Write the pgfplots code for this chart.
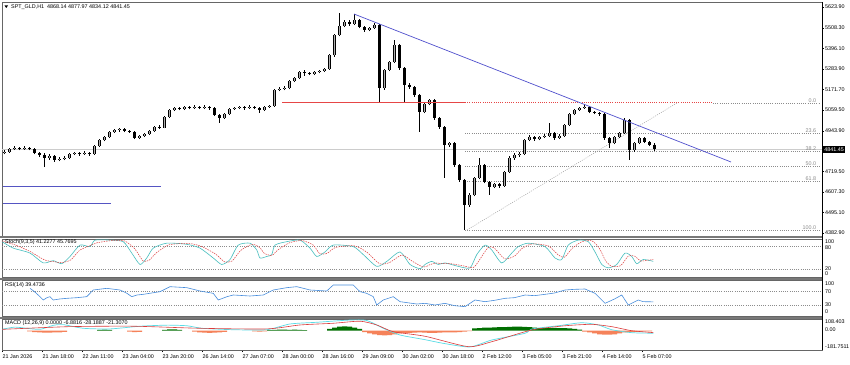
\documentclass[border=0pt]{standalone}
\usepackage{pgfplots}
\pgfplotsset{compat=1.18}
\usepackage{pgfplotstable}
\usepackage{fontspec}
\setmainfont{Liberation Sans}
\newcommand\mt{\fontsize{5.4}{6}\selectfont}
\definecolor{trendc}{RGB}{80,80,205}
\definecolor{hzblue}{RGB}{85,85,195}
\definecolor{fibc}{RGB}{140,140,140}
\definecolor{stk}{RGB}{70,190,190}
\definecolor{rsic}{RGB}{70,140,220}
\definecolor{hgreen}{RGB}{0,110,0}
\definecolor{hsalmon}{RGB}{245,130,90}
\definecolor{mcyan}{RGB}{90,220,230}
\definecolor{mred}{RGB}{220,60,60}
\definecolor{sepc}{RGB}{120,120,120}
\definecolor{bullc}{RGB}{175,175,175}
\definecolor{redln}{RGB}{230,70,70}

\pgfplotstableread{
x o h l c
1 4822 4838 4815 4828
3 4828 4852 4824 4844
5 4844 4858 4838 4850
7 4850 4856 4836 4844
9 4844 4859 4840 4850
11 4850 4857 4837 4844
13 4844 4850 4815 4822
15 4822 4830 4800 4811
17 4811 4820 4745 4795
19 4795 4815 4785 4806
21 4806 4812 4775 4784
23 4784 4800 4776 4789
25 4789 4804 4782 4795
27 4795 4824 4790 4817
29 4817 4830 4810 4822
31 4822 4828 4808 4817
33 4817 4831 4812 4822
35 4822 4827 4806 4817
37 4817 4868 4812 4861
39 4861 4900 4855 4894
41 4894 4918 4886 4910
43 4910 4945 4904 4938
45 4938 4956 4932 4948
47 4948 4957 4940 4952
49 4952 4958 4936 4943
51 4943 4950 4932 4940
53 4940 4945 4898 4905
55 4905 4922 4898 4916
57 4916 4934 4910 4927
59 4927 4950 4920 4943
61 4943 4972 4938 4965
63 4965 4975 4955 4962
65 4962 5026 4958 5020
67 5020 5064 5014 5058
69 5058 5076 5052 5069
71 5069 5075 5056 5064
73 5064 5082 5058 5075
75 5075 5080 5062 5069
77 5069 5083 5064 5075
79 5075 5081 5062 5069
81 5069 5084 5063 5075
83 5075 5080 5060 5069
85 5069 5074 5024 5031
87 5031 5038 4987 5014
89 5014 5042 5008 5036
91 5036 5070 5030 5064
93 5064 5076 5058 5069
95 5069 5082 5063 5075
97 5075 5080 5061 5069
99 5069 5083 5064 5075
101 5075 5079 5062 5069
103 5069 5072 5042 5058
105 5058 5081 5052 5075
107 5075 5088 5070 5080
109 5080 5176 5076 5168
111 5168 5183 5160 5174
113 5174 5188 5166 5179
115 5179 5224 5172 5218
117 5218 5242 5212 5234
119 5234 5274 5228 5267
121 5267 5276 5245 5262
123 5262 5268 5248 5256
125 5256 5274 5250 5267
127 5267 5280 5260 5272
129 5272 5290 5266 5283
131 5283 5368 5278 5360
133 5360 5478 5352 5470
135 5470 5591 5462 5520
137 5520 5552 5512 5542
139 5542 5550 5522 5531
141 5531 5585 5525 5552
143 5552 5558 5506 5514
145 5514 5520 5488 5498
147 5498 5516 5490 5509
149 5509 5536 5502 5525
151 5525 5530 5097 5179
153 5179 5286 5170 5278
155 5278 5330 5270 5322
157 5322 5443 5315 5415
159 5415 5420 5280 5289
161 5289 5295 5102 5196
163 5196 5205 5176 5185
165 5185 5192 5132 5141
167 5141 5148 4938 5047
169 5047 5100 5040 5091
171 5091 5120 5084 5113
173 5113 5120 5005 5014
175 5014 5022 4955 4965
177 4965 4972 4685 4866
179 4866 4885 4856 4877
181 4877 4884 4748 4756
183 4756 4762 4665 4674
185 4674 4680 4399 4537
187 4537 4600 4528 4592
189 4592 4692 4584 4685
191 4685 4795 4678 4756
193 4756 4762 4655 4663
195 4663 4670 4592 4636
197 4636 4660 4628 4652
199 4652 4658 4632 4641
201 4641 4725 4636 4718
203 4718 4805 4712 4795
205 4795 4820 4785 4811
207 4811 4826 4802 4817
209 4817 4900 4810 4894
211 4894 4920 4886 4910
213 4910 4915 4890 4899
215 4899 4918 4892 4910
217 4910 4925 4904 4916
219 4916 4987 4910 4932
221 4932 4938 4896 4905
223 4905 4925 4898 4916
225 4916 4982 4910 4976
227 4976 5042 4970 5036
229 5036 5065 5030 5058
231 5058 5076 5052 5069
233 5069 5086 5064 5075
235 5075 5080 5040 5047
237 5047 5054 5034 5042
239 5042 5050 5028 5036
241 5036 5040 4895 4905
243 4905 4912 4850 4877
245 4877 4917 4870 4910
247 4910 4940 4904 4932
249 4932 5014 4926 5003
251 5003 5008 4784 4838
253 4838 4885 4830 4877
255 4877 4912 4870 4905
257 4905 4910 4876 4883
259 4883 4890 4860 4868
261 4868.14 4877.97 4834.12 4841.45
}\candles

\pgfplotstableread{
x y
0 93
4.5 76
11.2 63
16.5 37
20.5 43
23.9 35
27.2 54
31.2 84
35.2 80
37.2 97
43.2 97
48.5 93
51.9 63
55.2 33
57.9 50
60.5 76
65.9 89
73.9 86
79.2 76
84.5 50
87.9 33
91.2 46
94.5 84
99.2 89
101.9 71
103.2 50
105.9 54
107.9 59
109.2 84
113.9 93
119.2 97
123.2 76
125.9 54
129.2 66
132.5 84
140.5 80
144.5 59
149.9 28
153.9 41
159.2 66
163.2 33
167.2 22
169.2 33
171.9 41
174.5 33
177.2 37
182.5 28
187.2 24
189.9 59
193.2 84
195.9 71
199.9 37
203.9 63
206.5 80
210.5 89
217.2 80
221.2 50
223.9 46
226.5 84
230.5 97
234.5 93
237.2 66
239.9 33
242.5 24
245.9 33
249.2 63
251.9 54
253.9 35
256.5 46
260.5 41.23
}\stochK

\pgfplotstableread{
x y
0 95
5 85
11 68
17 45
21 40
24 38
27.5 45
31 70
35 82
38 90
44 96
49 95
53 75
56.5 42
59 45
62 65
67 85
75 88
80 80
85.5 60
89 40
92 42
95.5 70
100 86
103 78
105 62
108 57
110.5 72
115 90
120 96
124.5 84
127 62
130 62
133.5 78
141 82
146 65
151 35
155 38
160 58
164 42
168.5 26
171 32
173.5 37
176 35
178.5 36
184 30
188.5 25
191 45
194.5 78
197 76
201 48
205 55
208 75
212 87
218.5 82
222.5 58
225 52
228 75
232 93
236 95
239 75
241.5 42
244 28
247.5 30
250.5 55
253 55
255.5 42
258 44
260.5 45.77
}\stochD

\pgfplotstableread{
x y
11.2 80
13 70
15.2 55
16.5 45
18 52
19.2 55
20.5 45
23 48
25.9 50
30 52
33.9 55
36.5 75
41.9 80
47.2 75
50 65
51.9 55
54 60
56.5 62
63.2 70
67.2 85
73.9 82
79.2 72
84.5 65
86.5 45
90 55
92.5 60
99.2 57
104.5 60
108.5 75
113.9 82
117.9 85
123.2 75
129.9 72
132.5 90
140.5 90
143.2 70
145.9 65
148.5 55
149.9 30
152.5 45
156.5 55
159.2 40
165.9 33
169.2 35
173.2 30
177.2 35
181 28
185.2 25
189.2 45
193.2 40
197 44
201.2 50
205 52
209.2 60
213 58
217.2 62
221 66
225.2 75
229 77
233.2 78
237.2 65
241.2 35
245 48
247.9 60
250.5 30
254.5 45
256.5 40
260.5 39.47
}\rsi

\pgfplotstableread{
x y
0 15
5 40
9 30
15.2 15
20.5 60
24.5 68
32.5 27
43.2 20
55.2 50
66 62
74 55
80 27
92.5 11
105.9 11
115.2 75
125.9 94
139.2 119
145.9 114
152.5 27
159.2 -48
169.2 -100
176.5 -141
187.2 -181
195.9 -104
209.2 -29
211.9 19
222.5 55
231.9 89
238.5 64
243.9 11
251.9 -22
260.5 -28.19
}\macdM

\pgfplotstableread{
x y
0 15
26.7 45
52.5 50
79.2 27
105.9 20
119.2 64
132.5 83
143.2 106
149.9 64
156.5 -11
169.2 -62
186.5 -178
195.9 -123
211.9 8
225.2 55
235.9 71
243.9 45
251.9 0
260.5 -21.31
}\macdS

\pgfplotstableread{
x y
39 8
41 12
43 8
65 10
67 15
69 15
71 8
107 6
109 10
111 12
113 12
115 10
117 12
119 10
121 6
131 20
133 35
135 45
137 48
139 45
141 35
143 20
189 25
191 30
193 35
195 35
197 38
199 40
201 40
203 42
205 45
207 45
209 42
211 40
213 35
215 30
217 28
219 30
221 32
223 30
225 28
227 25
229 20
231 12
}\histpos

\pgfplotstableread{
x y
11 -8
13 -15
15 -20
17 -22
19 -22
21 -20
23 -18
25 -12
51 -10
53 -15
55 -12
77 -10
79 -18
81 -22
83 -25
85 -22
87 -18
89 -12
101 -8
103 -10
105 -8
145 -15
147 -30
149 -42
151 -50
153 -52
155 -48
157 -40
159 -30
161 -25
163 -25
165 -22
167 -20
169 -22
171 -25
173 -25
175 -22
177 -20
179 -20
181 -18
183 -15
185 -10
187 -5
233 -10
235 -20
237 -30
239 -40
241 -45
243 -45
245 -40
247 -30
249 -20
251 -15
253 -12
255 -10
257 -8
259 -7
}\histneg

\pgfplotstableread{
x y
0.4 4635.5
63.6 4635.5
}\blueA

\pgfplotstableread{
x y
0.4 4544.6
43.6 4544.6
}\blueB

\pgfplotsset{
  panel/.style={
    scale only axis, width=820pt, xmin=0, xmax=328, anchor=south west,
    axis line style={black!60, line width=0.5pt},
    xtick=\empty, ytick=\empty,
  },
  fibline/.style={draw=fibc, line width=0.5pt, dash pattern=on 1pt off 1.2pt},
}

\begin{document}
\begin{tikzpicture}
\path[use as bounding box, fill=white] (0pt,0pt) rectangle (850pt,364pt);

% ---------- main price chart ----------
\begin{axis}[panel, at={(2pt,128pt)}, height=234pt, ymin=4366.4, ymax=5651.3,
  ytick={4382.9,4495.1,4607.3,4719.5,4943.9,5059.5,5171.7,5283.9,5396.1,5508.3,5623.9},
  yticklabels={4382.90,4495.10,4607.30,4719.50,4943.90,5059.50,5171.70,5283.90,5396.10,5508.30,5623.90},
  ytick pos=right, yticklabel pos=right, tick align=outside, major tick length=2pt,
  tick style={black, line width=0.4pt},
  yticklabel style={font=\mt, anchor=west, inner sep=1pt},
  colormap={candle}{color=(black) color=(bullc)}, point meta min=0, point meta max=1,
]
\addplot[draw=black!20, line width=0.6pt] coordinates {(0,4841.45) (328,4841.45)};
\addplot[fibline] coordinates {(284.4,5097) (327.2,5097)};
\addplot[fibline] coordinates {(185.2,4932.3) (327.2,4932.3)};
\addplot[fibline] coordinates {(185.2,4830.4) (327.2,4830.4)};
\addplot[fibline] coordinates {(185.2,4748.2) (327.2,4748.2)};
\addplot[fibline] coordinates {(185.2,4665.9) (327.2,4665.9)};
\addplot[fibline] coordinates {(185.2,4399.4) (327.2,4399.4)};
\addplot[fibline, draw=fibc!80] coordinates {(186,4399.4) (270,5097)};
% wicks
\addplot[draw=black, line width=0.6pt, quiver={u=0, v=\thisrow{h}-\thisrow{l}, every arrow/.append style={line width=0.6pt}}] table[x=x, y=l] {\candles};
% bodies
\addplot[draw=black, line width=2.6pt, quiver={u=0, v=\thisrow{c}-\thisrow{o}, every arrow/.append style={line width=2.6pt}}] table[x=x, y=o] {\candles};
\addplot[line width=1.2pt, point meta={\thisrow{c}>\thisrow{o}},
  quiver={u=0, v=\thisrow{c}-\thisrow{o}, colored=mapped color, every arrow/.append style={line width=1.2pt}}] table[x=x, y=o] {\candles};
% drawn objects on top
\addplot[color=hzblue, line width=1pt, mark=none] table {\blueA};
\addplot[color=hzblue, line width=1pt, mark=none] table {\blueB};
\addplot[draw=redln, line width=0.9pt] coordinates {(112,5097) (185.2,5097)};
\addplot[draw=redln, line width=0.9pt, dash pattern=on 1pt off 1.2pt] coordinates {(185.2,5097) (284.4,5097)};
\addplot[draw=trendc, line width=0.7pt] coordinates {(140.8,5585.4) (291.6,4772.8)};
\node[font=\mt, text=fibc, anchor=south east, inner sep=0.6pt] at (axis cs:326,5097) {0.0};
\node[font=\mt, text=fibc, anchor=south east, inner sep=0.6pt] at (axis cs:326,4932.3) {23.6};
\node[font=\mt, text=fibc, anchor=south east, inner sep=0.6pt] at (axis cs:326,4830.4) {38.2};
\node[font=\mt, text=fibc, anchor=south east, inner sep=0.6pt] at (axis cs:326,4748.2) {50.0};
\node[font=\mt, text=fibc, anchor=south east, inner sep=0.6pt] at (axis cs:326,4665.9) {61.8};
\node[font=\mt, text=fibc, anchor=south east, inner sep=0.6pt] at (axis cs:326,4399.4) {100.0};
\coordinate (tag) at (axis cs:328,4841.45);
\end{axis}

% ---------- Stochastic ----------
\begin{axis}[panel, at={(2pt,87pt)}, height=38pt, ymin=0, ymax=100]
\addplot[fibline] coordinates {(0,20) (328,20)};
\addplot[fibline] coordinates {(0,80) (328,80)};
\addplot[draw=stk, line width=0.6pt, smooth, tension=0.4] table {\stochK};
\addplot[draw=mred, line width=0.5pt, dash pattern=on 1.5pt off 1pt, smooth, tension=0.4] table {\stochD};
\end{axis}

% ---------- RSI ----------
\begin{axis}[panel, at={(2pt,48pt)}, height=36pt, ymin=-3, ymax=105]
\addplot[fibline] coordinates {(0,30) (328,30)};
\addplot[fibline] coordinates {(0,70) (328,70)};
\addplot[draw=rsic, line width=0.6pt] table {\rsi};
\end{axis}

% ---------- MACD ----------
\begin{axis}[panel, at={(2pt,14pt)}, height=31pt, ymin=-215.4, ymax=130.6,
  xtick={0,16,32,48,64,80,96,112,128,144,160,176,192,208,224,240,256},
  xticklabels={21 Jan 2026,21 Jan 18:00,22 Jan 11:00,23 Jan 04:00,23 Jan 20:00,26 Jan 14:00,27 Jan 07:00,28 Jan 00:00,28 Jan 16:00,29 Jan 09:00,30 Jan 02:00,30 Jan 18:00,2 Feb 12:00,3 Feb 05:00,3 Feb 21:00,4 Feb 14:00,5 Feb 07:00},
  xtick pos=bottom, tick align=outside, major tick length=2pt,
  tick style={black, line width=0.4pt},
  xticklabel style={font=\mt, anchor=north west, inner sep=1pt, xshift=-0.5pt, yshift=-1.5pt},
]
\addplot[ybar, bar width=5pt, fill=hgreen, draw=none] table {\histpos};
\addplot[ybar, bar width=5pt, fill=hsalmon, draw=none] table {\histneg};
\addplot[draw=mcyan, line width=0.7pt, smooth, tension=0.4] table {\macdM};
\addplot[draw=mred, line width=0.6pt, smooth, tension=0.4] table {\macdS};
\end{axis}

% separators and border
\draw[sepc, line width=2pt] (0pt,126.5pt) -- (822.5pt,126.5pt);
\draw[sepc, line width=2pt] (0pt,85.5pt) -- (822.5pt,85.5pt);
\draw[sepc, line width=2pt] (0pt,46.5pt) -- (822.5pt,46.5pt);
\draw[black, line width=0.6pt] (822pt,14pt) -- (822pt,362pt);

% price tag
\node[fill=black, text=white, font=\mt, anchor=west, inner sep=1.2pt] at ([xshift=1pt]tag) {4841.45};

% indicator scale labels
\foreach \yy/\tt in {122.5/100, 116.5/80, 95/20, 90/0, 80/100, 72/70, 59/30, 52/0, 42.5/108.403, 34/0.00, 17/-181.7511}
  \node[font=\mt, anchor=west, inner sep=1pt] at (824pt,\yy pt) {\tt};

% titles
\fill[black] (4.5pt,358.6pt) -- (8pt,358.6pt) -- (6.25pt,356pt) -- cycle;
\node[font=\mt, anchor=west, inner sep=0pt] at (11pt,357.3pt) {SPT\_GLD,H1\ \ 4868.14 4877.97 4834.12 4841.45};
\node[font=\mt, anchor=west, inner sep=0pt] at (5pt,121.7pt) {Stoch(9,3,5) 41.2277 45.7695};
\node[font=\mt, anchor=west, inner sep=0pt] at (5pt,79pt) {RSI(14) 39.4736};
\node[font=\mt, anchor=west, inner sep=0pt] at (5pt,41.3pt) {MACD (12,26,9) 0.0000 -6.8816 -28.1887 -21.3070};
\end{tikzpicture}
\end{document}
